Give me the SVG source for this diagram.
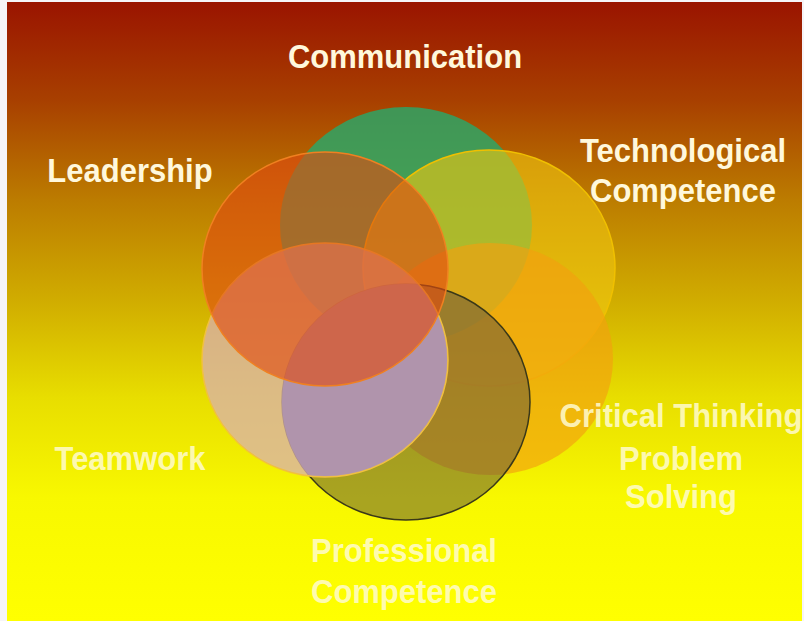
<svg xmlns="http://www.w3.org/2000/svg" width="804" height="621" viewBox="0 0 804 621">
<defs>
<linearGradient id="bg" x1="0" y1="0" x2="0" y2="1">
<stop offset="0" stop-color="#9a1400"/>
<stop offset="0.16" stop-color="#a84000"/>
<stop offset="0.32" stop-color="#bc7c00"/>
<stop offset="0.48" stop-color="#d0ac00"/>
<stop offset="0.64" stop-color="#e8de00"/>
<stop offset="0.8" stop-color="#f8f800"/>
<stop offset="1" stop-color="#ffff00"/>
</linearGradient>
<clipPath id="clipProf"><ellipse cx="406" cy="402" rx="124" ry="118"/></clipPath>
<style>
.lbl{font-family:"Liberation Sans",Arial,sans-serif;font-weight:bold;font-size:31px;fill:#fff8dc;text-anchor:middle}
.low{fill:#fffbd0;fill-opacity:0.85}
</style>
</defs>
<rect x="0" y="0" width="804" height="621" fill="#f6f4f8"/>
<rect x="7" y="2" width="795" height="619" fill="url(#bg)"/>
<g id="communication"><ellipse cx="406" cy="225" rx="126" ry="118" fill="#26aa6c" fill-opacity="0.8"/></g>
<g id="technological"><ellipse cx="489" cy="268" rx="126" ry="118" fill="#f2c810" fill-opacity="0.6" stroke="#f0c000" stroke-width="1.5"/></g>
<g id="critical"><ellipse cx="490" cy="359" rx="123" ry="116" fill="#f2a010" fill-opacity="0.65"/></g>
<g id="professional"><ellipse cx="406" cy="402" rx="124" ry="118" fill="#5a5040" fill-opacity="0.5" stroke="#3a3818" stroke-width="1.5"/></g>
<g id="teamwork"><ellipse cx="325" cy="360" rx="123" ry="117" fill="#d8b0b0" fill-opacity="0.75" stroke="#f0c040" stroke-width="1.5"/>
<ellipse cx="325" cy="360" rx="122" ry="116" fill="#b094ac" clip-path="url(#clipProf)"/></g>
<g id="leadership"><ellipse cx="325" cy="269" rx="123" ry="117" fill="#e04a10" fill-opacity="0.62" stroke="#f08020" stroke-width="1.5"/></g>
<g id="labels" transform="scale(1 1.08)">
<text class="lbl" x="405" y="63">Communication</text>
<text class="lbl" x="130" y="168.5">Leadership</text>
<text class="lbl" x="683" y="150">Technological</text>
<text class="lbl" x="683" y="187">Competence</text>
<text class="lbl low" x="130" y="435.2">Teamwork</text>
<text class="lbl low" x="681" y="395.4">Critical Thinking</text>
<text class="lbl low" x="681" y="435.2">Problem</text>
<text class="lbl low" x="681" y="470.4">Solving</text>
<text class="lbl low" x="404" y="520.4">Professional</text>
<text class="lbl low" x="404" y="558.3">Competence</text>
</g>
</svg>
